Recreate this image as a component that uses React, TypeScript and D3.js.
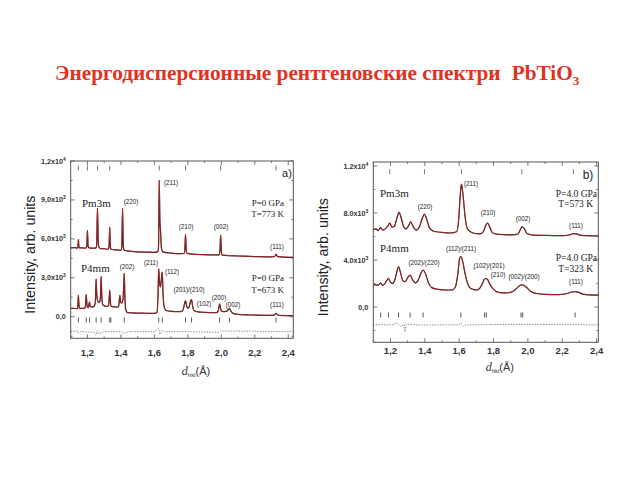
import React from "react";
import * as d3 from "d3";

type P = [number, number];

const TITLE = "Энергодисперсионные рентгеновские спектри";
const TITLE_FORMULA = "PbTiO";
const TITLE_SUB = "3";

const xTickVals = [1.2, 1.4, 1.6, 1.8, 2.0, 2.2, 2.4];
const xTickLabels = ["1,2", "1,4", "1,6", "1,8", "2,0", "2,2", "2,4"];

const aYTicks = [0, 3000, 6000, 9000, 12000];
const aYMant = ["0,0", "3,0x10", "6,0x10", "9,0x10", "1,2x10"];
const aYExp = ["", "3", "3", "3", "4"];

const bYTicks = [0, 4000, 8000, 12000];
const bYMant = ["0,0", "4.0x10", "8.0x10", "1.2x10"];
const bYExp = ["", "3", "3", "4"];

// Panel a) upper pattern: Pm3m, P=0 GPa, T=773 K
const aCubic773: P[] = [
  [1.10, 5300], [1.125, 5320], [1.14, 5290], [1.143, 5400], [1.146, 5950], [1.149, 5400], [1.152, 5300],
  [1.17, 5310], [1.19, 5280], [1.196, 5400], [1.2, 6650], [1.204, 5450], [1.21, 5300], [1.23, 5280],
  [1.25, 5280], [1.255, 5500], [1.26, 8350], [1.264, 6000], [1.268, 5400], [1.28, 5250], [1.3, 5240],
  [1.325, 5200], [1.329, 5400], [1.333, 6900], [1.337, 5400], [1.342, 5200], [1.37, 5150], [1.4, 5120],
  [1.405, 5300], [1.41, 8350], [1.414, 5500], [1.42, 5120], [1.45, 5050], [1.5, 5000], [1.55, 4980],
  [1.6, 4960], [1.62, 5000], [1.625, 5500], [1.629, 10500], [1.633, 7400], [1.637, 6600], [1.642, 5300],
  [1.65, 5000], [1.7, 4900], [1.75, 4860], [1.778, 4880], [1.782, 5200], [1.786, 6350], [1.79, 5200],
  [1.795, 4880], [1.85, 4800], [1.9, 4780], [1.95, 4760], [1.987, 4760], [1.992, 5150], [1.996, 6300],
  [2.0, 5100], [2.006, 4750], [2.05, 4700], [2.1, 4680], [2.2, 4640], [2.3, 4610], [2.318, 4640],
  [2.327, 4800], [2.336, 4640], [2.43, 4580],
];

// Panel a) lower pattern: P4mm, P=0 GPa, T=673 K
const aTetra673: P[] = [
  [1.10, 650], [1.12, 640], [1.14, 630], [1.143, 950], [1.146, 1650], [1.149, 950], [1.153, 650],
  [1.17, 640], [1.185, 660], [1.189, 1000], [1.193, 1700], [1.197, 950], [1.201, 700], [1.206, 700],
  [1.21, 1000], [1.213, 1150], [1.216, 800], [1.225, 760], [1.24, 800], [1.247, 1100], [1.252, 2900],
  [1.256, 1700], [1.262, 1200], [1.27, 1100], [1.277, 1400], [1.282, 3100], [1.286, 1600], [1.292, 900],
  [1.31, 800], [1.326, 850], [1.33, 1400], [1.333, 2050], [1.337, 1200], [1.342, 800], [1.36, 760],
  [1.385, 750], [1.39, 1200], [1.394, 1650], [1.398, 1150], [1.404, 1050], [1.412, 1300], [1.416, 2200],
  [1.42, 3350], [1.424, 1500], [1.428, 600], [1.44, 320], [1.5, 280], [1.55, 270], [1.6, 260],
  [1.615, 320], [1.621, 1400], [1.626, 3700], [1.631, 2600], [1.636, 2300], [1.641, 2800], [1.647, 3450],
  [1.652, 1700], [1.658, 800], [1.67, 480], [1.7, 420], [1.74, 400], [1.765, 420], [1.774, 650],
  [1.781, 1050], [1.786, 1220], [1.791, 950], [1.798, 680], [1.804, 660], [1.811, 900], [1.817, 1250],
  [1.822, 1320], [1.828, 850], [1.836, 480], [1.86, 380], [1.9, 340], [1.95, 320], [1.977, 340],
  [1.984, 600], [1.99, 990], [1.996, 600], [2.004, 420], [2.02, 400], [2.032, 430], [2.042, 560],
  [2.048, 650], [2.056, 450], [2.07, 260], [2.1, 180], [2.2, 130], [2.31, 110], [2.318, 150],
  [2.327, 270], [2.336, 150], [2.345, 100], [2.43, 80],
];

// Panel b) upper pattern: Pm3m, P=4.0 GPa, T=573 K
const bCubic573: P[] = [
  [1.10, 6550], [1.115, 6650], [1.128, 6500], [1.142, 6750], [1.155, 6550], [1.17, 6650], [1.185, 6900],
  [1.196, 7150], [1.208, 6800], [1.222, 6850], [1.238, 7600], [1.25, 8050], [1.262, 7600], [1.275, 6900],
  [1.29, 6650], [1.305, 6900], [1.318, 7250], [1.332, 6850], [1.35, 6550], [1.368, 6800], [1.385, 7550],
  [1.398, 7900], [1.41, 7500], [1.425, 6800], [1.45, 6450], [1.5, 6350], [1.55, 6300], [1.585, 6400],
  [1.598, 7600], [1.606, 9500], [1.613, 10450], [1.622, 9600], [1.635, 7600], [1.65, 6600], [1.68, 6300],
  [1.72, 6220], [1.74, 6400], [1.755, 6950], [1.765, 7150], [1.778, 6800], [1.795, 6300], [1.83, 6180],
  [1.9, 6140], [1.94, 6180], [1.955, 6550], [1.965, 6820], [1.978, 6700], [1.995, 6250], [2.03, 6120],
  [2.1, 6090], [2.2, 6070], [2.245, 6150], [2.265, 6250], [2.285, 6220], [2.31, 6100], [2.41, 6050],
];

// Panel b) lower pattern: P4mm, P=4.0 GPa, T=323 K
const bTetra323: P[] = [
  [1.10, 1850], [1.115, 1900], [1.125, 1850], [1.135, 1950], [1.143, 2050], [1.152, 1850], [1.165, 1950],
  [1.178, 2250], [1.188, 2450], [1.198, 2150], [1.21, 2000], [1.225, 2300], [1.237, 3000], [1.247, 3420],
  [1.258, 2950], [1.272, 2250], [1.285, 2150], [1.3, 2500], [1.314, 2720], [1.328, 2350], [1.345, 2050],
  [1.36, 2250], [1.375, 2800], [1.39, 3150], [1.405, 2800], [1.42, 2100], [1.44, 1650], [1.48, 1500],
  [1.52, 1450], [1.56, 1450], [1.578, 1700], [1.592, 2800], [1.603, 4150], [1.61, 4300], [1.62, 3900],
  [1.635, 2800], [1.652, 1900], [1.67, 1550], [1.7, 1450], [1.72, 1600], [1.737, 2050], [1.75, 2430],
  [1.762, 2400], [1.778, 1950], [1.8, 1500], [1.83, 1250], [1.87, 1200], [1.91, 1300], [1.935, 1600],
  [1.955, 1850], [1.97, 1880], [1.99, 1700], [2.015, 1350], [2.05, 1150], [2.1, 1080], [2.18, 1060],
  [2.23, 1150], [2.255, 1280], [2.275, 1320], [2.295, 1250], [2.32, 1100], [2.36, 1040], [2.41, 1020],
];

const aDiff: P[] = [
  [1.10, -1150], [1.14, -1100], [1.146, -1250], [1.16, -1120], [1.2, -1180], [1.24, -1200], [1.252, -1400],
  [1.26, -1050], [1.27, -1300], [1.3, -1150], [1.4, -1150], [1.42, -1250], [1.45, -1150], [1.6, -1150],
  [1.626, -900], [1.632, -1350], [1.645, -1050], [1.66, -1150], [1.8, -1150], [1.99, -1200], [2.0, -1100],
  [2.43, -1150],
];
const bDiff: P[] = [
  [1.10, -1500], [1.2, -1520], [1.24, -1400], [1.26, -1650], [1.28, -1500], [1.285, -2100], [1.29, -1500],
  [1.4, -1530], [1.6, -1500], [1.61, -1350], [1.62, -1600], [1.65, -1520], [1.96, -1480], [2.41, -1520],
];

const aBraggTop = [1.146, 1.2, 1.26, 1.333, 1.629, 1.786, 1.996, 2.327];
const aBraggBottom = [1.146, 1.193, 1.213, 1.252, 1.282, 1.333, 1.34, 1.42, 1.626, 1.647, 1.786, 1.822, 1.99, 2.048, 2.327];
const bBraggTop = [1.196, 1.398, 1.613, 1.965, 2.265];
const bBraggBottom = [1.143, 1.188, 1.247, 1.314, 1.39, 1.61, 1.748, 1.758, 1.96, 1.97, 2.275];

type Lbl = { t: string; x: number; y: number; s: number; f: string; a?: string };

const SERIF = "'Liberation Serif', 'Times New Roman', serif";
const SANS = "'Liberation Sans', Arial, sans-serif";

const aLabels: Lbl[] = [
  { t: "Pm3m", x: 82, y: 203, s: 11, f: SERIF, a: "start" },
  { t: "(220)", x: 131, y: 202, s: 6.3, f: SANS },
  { t: "(211)", x: 171, y: 183, s: 6.3, f: SANS },
  { t: "(210)", x: 186, y: 227, s: 6.3, f: SANS },
  { t: "(002)", x: 221, y: 227, s: 6.3, f: SANS },
  { t: "(111)", x: 277, y: 246.5, s: 6.3, f: SANS },
  { t: "P=0 GPa", x: 284, y: 203, s: 9, f: SERIF, a: "end" },
  { t: "T=773 K", x: 284, y: 214, s: 9, f: SERIF, a: "end" },
  { t: "a)", x: 287, y: 173, s: 11, f: SANS },
  { t: "P4mm", x: 81, y: 268, s: 11, f: SERIF, a: "start" },
  { t: "(202)", x: 127, y: 267, s: 6.3, f: SANS },
  { t: "(211)", x: 151, y: 263, s: 6.3, f: SANS },
  { t: "(112)", x: 172, y: 272, s: 6.3, f: SANS },
  { t: "(201)/(210)", x: 189, y: 290, s: 6.3, f: SANS },
  { t: "(102)", x: 204, y: 304, s: 6.3, f: SANS },
  { t: "(200)", x: 219, y: 297.5, s: 6.3, f: SANS },
  { t: "(002)", x: 233, y: 305, s: 6.3, f: SANS },
  { t: "(111)", x: 277, y: 305, s: 6.3, f: SANS },
  { t: "P=0 GPa", x: 284, y: 277.5, s: 9, f: SERIF, a: "end" },
  { t: "T=673 K", x: 284, y: 290, s: 9, f: SERIF, a: "end" },
];

const bLabels: Lbl[] = [
  { t: "Pm3m", x: 380, y: 193.5, s: 11, f: SERIF, a: "start" },
  { t: "(220)", x: 425, y: 207, s: 6.3, f: SANS },
  { t: "(211)", x: 471, y: 183.5, s: 6.3, f: SANS },
  { t: "(210)", x: 488, y: 212.5, s: 6.3, f: SANS },
  { t: "(002)", x: 523, y: 219, s: 6.3, f: SANS },
  { t: "(111)", x: 576, y: 226, s: 6.3, f: SANS },
  { t: "P=4.0 GPa", x: 597, y: 193.5, s: 9.5, f: SERIF, a: "end" },
  { t: "T=573 K", x: 593, y: 204, s: 9.5, f: SERIF, a: "end" },
  { t: "b)", x: 588, y: 174.5, s: 12, f: SANS },
  { t: "P4mm", x: 380, y: 248.5, s: 11, f: SERIF, a: "start" },
  { t: "(112)/(211)", x: 461, y: 248.5, s: 6.3, f: SANS },
  { t: "(202)/(220)", x: 424, y: 262.5, s: 6.3, f: SANS },
  { t: "(102)/(201)", x: 489, y: 266, s: 6.3, f: SANS },
  { t: "(210)", x: 498, y: 275, s: 6.3, f: SANS },
  { t: "(002)/(200)", x: 524, y: 277, s: 6.3, f: SANS },
  { t: "(111)", x: 576, y: 282, s: 6.3, f: SANS },
  { t: "P=4.0 GPa", x: 597, y: 258, s: 9.5, f: SERIF, a: "end" },
  { t: "T=323 K", x: 593, y: 268.5, s: 9.5, f: SERIF, a: "end" },
];

type PanelProps = {
  left: number; right: number; top: number; bottom: number;
  xDomain: [number, number]; yDomain: [number, number];
  yTicks: number[]; yMant: string[]; yExp: string[];
  curves: P[][]; diff: P[];
  braggTop: number[]; braggTopY: number; braggBottom: number[]; braggBottomY: number;
  labels: Lbl[]; xTitleY: number; xLabelY: number; yTitleX: number;
};

function Panel(p: PanelProps) {
  const x = d3.scaleLinear().domain(p.xDomain).range([p.left, p.right]);
  const y = d3.scaleLinear().domain(p.yDomain).range([p.bottom, p.top]);
  const line = d3.line<P>().x((d) => x(d[0])).y((d) => y(d[1])).curve(d3.curveMonotoneX);
  const minorX = d3.range(1.1, p.xDomain[1] + 1e-9, 0.1);
  const yStep = p.yTicks[1] - p.yTicks[0];
  const minorY = d3.range(p.yTicks[0] - yStep / 2, p.yDomain[1] + 1e-9, yStep / 2).filter((v) => v >= p.yDomain[0]);
  const yMid = (p.top + p.bottom) / 2;
  const xMid = (p.left + p.right) / 2;
  return (
    <g>
      {p.curves.map((c, i) => (
        <g key={i}>
          <path d={line(c) || ""} fill="none" stroke="#2a1515" strokeWidth={1.2} />
          <path d={line(c) || ""} fill="none" stroke="#c62828" strokeWidth={0.7} />
        </g>
      ))}
      <path d={line(p.diff) || ""} fill="none" stroke="#777" strokeWidth={0.8} strokeDasharray="1.5,1.2" />
      {p.braggTop.map((d, i) => (
        <line key={"bt" + i} x1={x(d)} x2={x(d)} y1={y(p.braggTopY) - 2.5} y2={y(p.braggTopY) + 2.5} stroke="#555" strokeWidth={0.8} />
      ))}
      {p.braggBottom.map((d, i) => (
        <line key={"bb" + i} x1={x(d)} x2={x(d)} y1={y(p.braggBottomY) - 2.5} y2={y(p.braggBottomY) + 2.5} stroke="#444" strokeWidth={0.9} />
      ))}
      <rect x={p.left} y={p.top} width={p.right - p.left} height={p.bottom - p.top} fill="none" stroke="#555" strokeWidth={1} />
      {minorX.map((v, i) => {
        const major = Math.abs(v * 10 - Math.round(v * 10)) < 1e-6 && Math.round(v * 10) % 2 === 0;
        const len = major ? 4 : 2;
        return (
          <g key={"mx" + i}>
            <line x1={x(v)} x2={x(v)} y1={p.bottom} y2={p.bottom - len} stroke="#555" strokeWidth={0.8} />
            <line x1={x(v)} x2={x(v)} y1={p.top} y2={p.top + len} stroke="#555" strokeWidth={0.8} />
          </g>
        );
      })}
      {minorY.map((v, i) => {
        const major = p.yTicks.some((t) => Math.abs(t - v) < 1e-6);
        const len = major ? 4 : 2;
        return (
          <g key={"my" + i}>
            <line x1={p.left} x2={p.left + len} y1={y(v)} y2={y(v)} stroke="#555" strokeWidth={0.8} />
            <line x1={p.right} x2={p.right - len} y1={y(v)} y2={y(v)} stroke="#555" strokeWidth={0.8} />
          </g>
        );
      })}
      {p.yTicks.map((v, i) => (
        <text key={"yl" + i} x={p.left - 5} y={y(v)} dy="0.35em" textAnchor="end" fontFamily={SANS} fontSize={7.2} fontWeight="bold" fill="#333">
          {p.yMant[i]}
          {p.yExp[i] ? <tspan fontSize={5} dy="-3">{p.yExp[i]}</tspan> : null}
        </text>
      ))}
      {xTickVals.map((v, i) => (
        <text key={"xl" + i} x={x(v)} y={p.xLabelY} dy="0.35em" textAnchor="middle" fontFamily={SANS} fontSize={9.5} fontWeight="bold" fill="#333">
          {xTickLabels[i]}
        </text>
      ))}
      <text x={xMid + 14} y={p.xTitleY} dy="0.35em" textAnchor="middle" fontFamily={SANS} fontSize={11} fill="#333">
        <tspan fontStyle="italic" fontFamily={SERIF} fontSize={12}>d</tspan>
        <tspan fontSize={6} dy="2.5">hkl</tspan>
        <tspan dy="-2.5">(Å)</tspan>
      </text>
      <text transform={`translate(${p.yTitleX},${yMid + 5}) rotate(-90)`} textAnchor="middle" dy="0.35em" fontFamily={SANS} fontSize={14.2} fill="#222">
        Intensity, arb. units
      </text>
      {p.labels.map((l, i) => (
        <text key={"l" + i} x={l.x} y={l.y} dy="0.35em" textAnchor={l.a || "middle"} fontFamily={l.f} fontSize={l.s} fill="#222">
          {l.t}
        </text>
      ))}
    </g>
  );
}

export default function App() {
  return (
    <svg width={640} height={480} style={{ position: "absolute", left: 0, top: 0, background: "#fff" }}>
      <rect width={640} height={480} fill="#fff" />
      <text x={55} y={80} fontFamily={SERIF} fontWeight="bold" fontSize={21.3} fill="#e0321f">
        {TITLE}
        <tspan dx={11}>{TITLE_FORMULA}</tspan>
        <tspan fontSize={13} dy="5">{TITLE_SUB}</tspan>
      </text>
      <Panel
        left={70.7} right={293.3} top={161} bottom={338.3}
        xDomain={[1.1, 2.43]} yDomain={[-1660, 12000]}
        yTicks={aYTicks} yMant={aYMant} yExp={aYExp}
        curves={[aCubic773, aTetra673]} diff={aDiff}
        braggTop={aBraggTop} braggTopY={11460} braggBottom={aBraggBottom} braggBottomY={-250}
        labels={aLabels} xLabelY={352.5} xTitleY={371} yTitleX={30}
      />
      <Panel
        left={373.3} right={598.3} top={162} bottom={342.3}
        xDomain={[1.1, 2.41]} yDomain={[-3000, 12340]}
        yTicks={bYTicks} yMant={bYMant} yExp={bYExp}
        curves={[bCubic573, bTetra323]} diff={bDiff}
        braggTop={bBraggTop} braggTopY={11515} braggBottom={bBraggBottom} braggBottomY={-677}
        labels={bLabels} xLabelY={351} xTitleY={367} yTitleX={323}
      />
    </svg>
  );
}
